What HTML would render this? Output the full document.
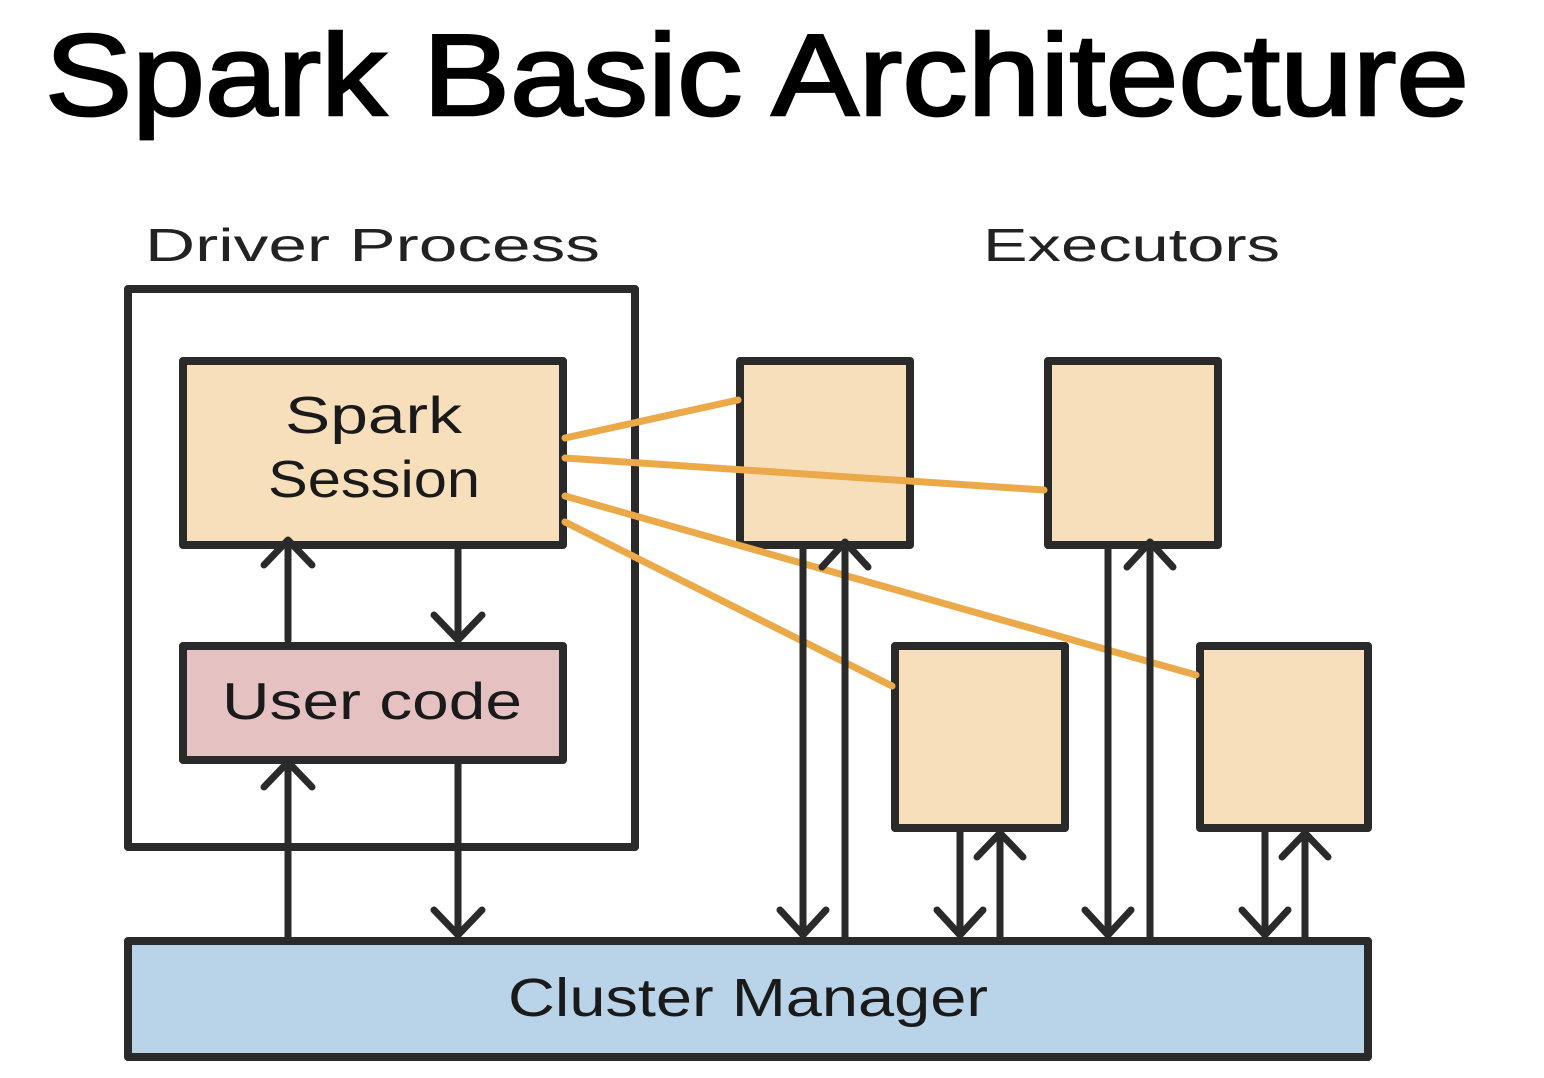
<!DOCTYPE html>
<html><head><meta charset="utf-8"><style>
html,body{margin:0;padding:0;background:#fff;}
svg{display:block;}
</style></head><body>
<svg width="1544" height="1078" viewBox="0 0 1544 1078" xmlns="http://www.w3.org/2000/svg">
<text x="45" y="115" font-family="Liberation Sans, sans-serif" font-size="116" textLength="1424" lengthAdjust="spacingAndGlyphs" fill="#000" stroke="#000" stroke-width="2.5">Spark Basic Architecture</text>
<g font-family="Liberation Sans, sans-serif" fill="#222">
<text x="145" y="261" font-size="46" textLength="455" lengthAdjust="spacingAndGlyphs">Driver Process</text>
<text x="983" y="261" font-size="46" textLength="297" lengthAdjust="spacingAndGlyphs">Executors</text>
</g>
<g stroke="#2a2a2a" stroke-width="8" stroke-linejoin="round">
<rect x="128" y="289" width="507" height="558" fill="#fff"/>
<rect x="183" y="361" width="380" height="184" fill="#f8dfbc"/>
<rect x="183" y="646" width="380" height="114" fill="#e6c1c1"/>
<rect x="740" y="361" width="170" height="184" fill="#f8dfbc"/>
<rect x="1048" y="361" width="170" height="184" fill="#f8dfbc"/>
<rect x="895" y="646" width="170" height="182" fill="#f8dfbc"/>
<rect x="1200" y="646" width="168" height="182" fill="#f8dfbc"/>
<rect x="128" y="941" width="1240" height="116" fill="#b9d3e8"/>
</g>
<g stroke="#eca94a" stroke-width="7" stroke-linecap="round" fill="none">
<line x1="565" y1="438" x2="738" y2="400"/>
<line x1="565" y1="458" x2="1044" y2="490"/>
<line x1="565" y1="496" x2="1196" y2="675"/>
<line x1="565" y1="522" x2="892" y2="686"/>
</g>
<g stroke="#2a2a2a" stroke-width="7" fill="none" stroke-linecap="round" stroke-linejoin="round">
<path d="M288 640 V545 M264 565 L288 540 L312 565"/>
<path d="M458 548 V638 M434 615 L458 640 L482 615"/>
<path d="M288 938 V762 M264 787 L288 762 L312 787"/>
<path d="M458 763 V933 M434 910 L458 935 L482 910"/>
<path d="M803 548 V933 M780 910 L803 935 L826 910"/>
<path d="M845 938 V545 M822 567 L845 542 L868 567"/>
<path d="M1108 548 V933 M1085 910 L1108 935 L1131 910"/>
<path d="M1150 938 V545 M1127 567 L1150 542 L1173 567"/>
<path d="M960 831 V933 M937 910 L960 935 L983 910"/>
<path d="M1000 938 V834 M977 857 L1000 833 L1023 857"/>
<path d="M1265 831 V933 M1242 910 L1265 935 L1288 910"/>
<path d="M1305 938 V834 M1282 857 L1305 833 L1328 857"/>
</g>
<g font-family="Liberation Sans, sans-serif" fill="#1a1a1a">
<text x="285" y="433" font-size="52" textLength="177" lengthAdjust="spacingAndGlyphs">Spark</text>
<text x="268" y="497" font-size="52" textLength="212" lengthAdjust="spacingAndGlyphs">Session</text>
<text x="222" y="719" font-size="52" textLength="300" lengthAdjust="spacingAndGlyphs">User code</text>
<text x="508" y="1016" font-size="54" textLength="480" lengthAdjust="spacingAndGlyphs">Cluster Manager</text>
</g>
</svg>
</body></html>
